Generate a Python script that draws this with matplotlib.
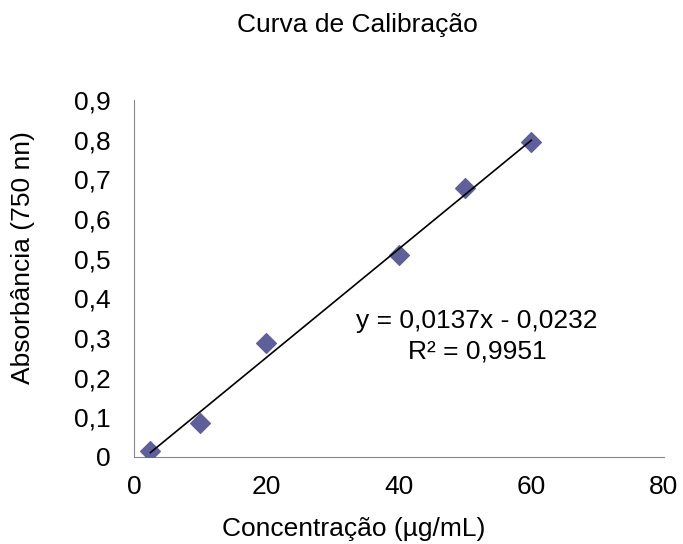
import numpy as np
import matplotlib.pyplot as plt

plt.rcParams['font.family'] = ['Liberation Sans', 'DejaVu Sans']

conc = [2.5, 10, 20, 40, 50, 60]
absorb = [0.015, 0.086, 0.287, 0.509, 0.678, 0.794]
slope = 0.0137
intercept = -0.0232
x_ticks = [0, 20, 40, 60, 80]
y_ticks = [0, 0.1, 0.2, 0.3, 0.4, 0.5, 0.6, 0.7, 0.8, 0.9]

fig = plt.figure(figsize=(6.83, 5.44), dpi=100)
ax = fig.add_axes([0.196, 0.16, 0.776, 0.656])

ax.scatter(conc, absorb, marker='D', s=100, color='#5f5f9a', zorder=3)
xl = np.array([min(conc), max(conc)])
ax.plot(xl, slope * xl + intercept, color='black', lw=1.2, zorder=4)

ax.set_xlim(0, 80)
ax.set_ylim(0, 0.9)
ax.set_xticks(x_ticks)
ax.set_yticks(y_ticks)
ax.set_xticklabels([str(t) for t in x_ticks])
ax.set_yticklabels([('%g' % t).replace('.', ',') for t in y_ticks])
ax.tick_params(length=0, labelsize=19)
ax.tick_params(axis='x', pad=13)
ax.tick_params(axis='y', pad=17)
for s in ['top', 'right']:
    ax.spines[s].set_visible(False)
for s in ['left', 'bottom']:
    ax.spines[s].set_color('#868686')

ax.text(51.8, 0.305, 'y = 0,0137x - 0,0232\nR² = 0,9951', ha='center', va='center',
        fontsize=19, linespacing=1.35)

ax.set_xlabel('Concentração (µg/mL)', fontsize=19)
ax.xaxis.set_label_coords(0.415, -0.168)
ax.set_ylabel('Absorbância (750 nn)', fontsize=19)
ax.yaxis.set_label_coords(-0.187, 0.56)
fig.text(0.523, 0.954, 'Curva de Calibração', fontsize=19, ha='center', va='center')

fig.savefig('out.png', dpi=100)
